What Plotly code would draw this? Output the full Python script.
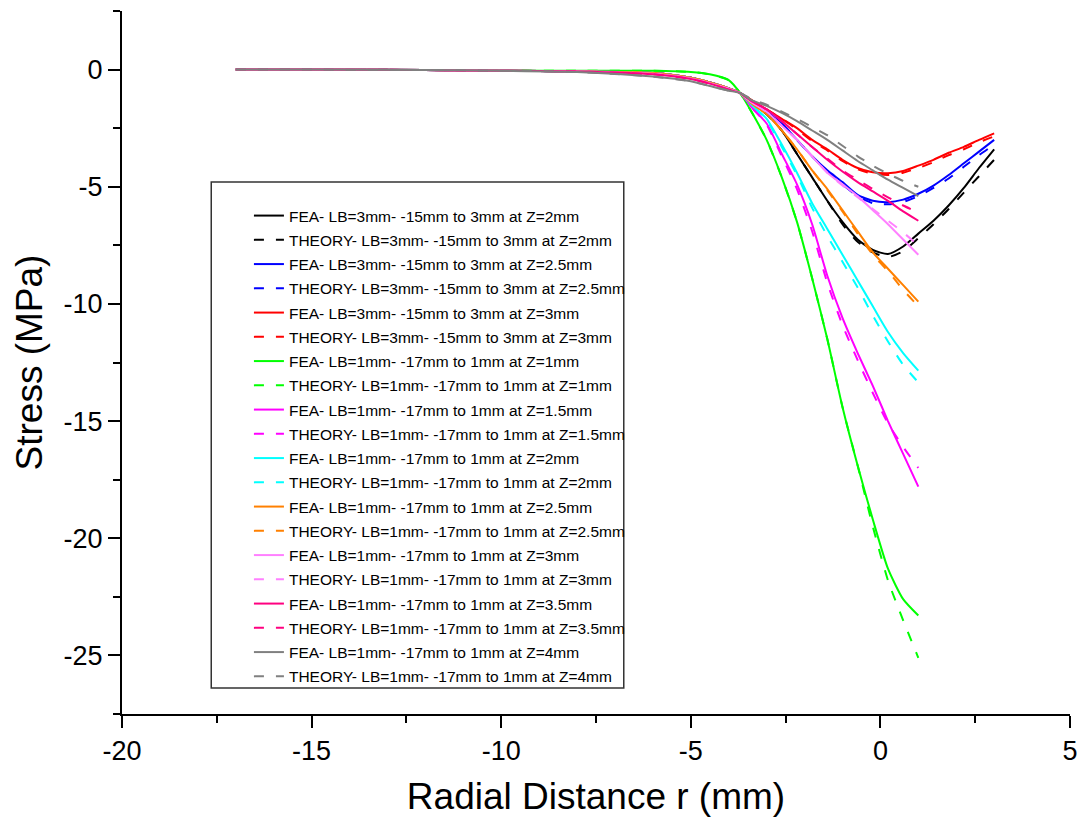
import plotly.graph_objects as go

# ---------------- data ----------------
x_lb3 = [-15, -12, -10, -8, -6, -5, -4.5, -4, -3.7, -3.4, -3, -2.6, -2.2, -1.8, -1.4,
         -1, -0.6, -0.2, 0.2, 0.6, 1.0, 1.4, 1.8, 2.2, 2.6, 3.0]
x_lb1 = [-17, -15, -12, -10, -8, -6, -5, -4.5, -4, -3.7, -3.4, -3, -2.6, -2.2, -1.8,
         -1.4, -1, -0.6, -0.2, 0.2, 0.6, 1.0]

fea_lb3_z2 = [0, -0.02, -0.05, -0.08, -0.15, -0.35, -0.55, -0.8, -1.0, -1.4, -1.9, -2.6, -3.6,
              -4.6, -5.6, -6.5, -7.25, -7.7, -7.87, -7.55, -7.0, -6.45, -5.8, -5.05, -4.2, -3.4]
th_lb3_z2 = [0, -0.02, -0.05, -0.08, -0.15, -0.35, -0.55, -0.8, -1.0, -1.4, -1.9, -2.6, -3.6,
             -4.6, -5.6, -6.6, -7.35, -7.8, -8.0, -7.75, -7.2, -6.6, -5.95, -5.25, -4.55, -3.85]
fea_lb3_z25 = [0, -0.02, -0.05, -0.08, -0.15, -0.35, -0.55, -0.8, -1.0, -1.35, -1.8, -2.3, -3.0,
               -3.7, -4.3, -4.8, -5.35, -5.6, -5.66, -5.55, -5.3, -4.95, -4.5, -4.0, -3.5, -3.0]
th_lb3_z25 = [0, -0.02, -0.05, -0.08, -0.15, -0.35, -0.55, -0.8, -1.0, -1.35, -1.8, -2.3, -3.0,
              -3.7, -4.35, -4.9, -5.4, -5.7, -5.75, -5.65, -5.4, -5.05, -4.65, -4.15, -3.65, -3.2]
fea_lb3_z3 = [0, -0.02, -0.05, -0.08, -0.15, -0.35, -0.55, -0.8, -1.0, -1.3, -1.7, -2.1, -2.5,
              -3.0, -3.4, -3.85, -4.2, -4.38, -4.42, -4.33, -4.1, -3.85, -3.55, -3.3, -3.0, -2.72]
th_lb3_z3 = [0, -0.02, -0.05, -0.08, -0.15, -0.35, -0.55, -0.8, -1.0, -1.3, -1.7, -2.1, -2.55,
             -3.05, -3.45, -3.9, -4.25, -4.45, -4.5, -4.4, -4.2, -3.95, -3.65, -3.4, -3.1, -2.85]

fea_lb1_z1 = [0, 0, -0.02, -0.04, -0.05, -0.05, -0.1, -0.2, -0.45, -1.0, -1.8, -3.0, -4.6,
              -6.5, -8.9, -11.5, -14.4, -16.9, -19.2, -21.3, -22.6, -23.3]
th_lb1_z1 = [0, 0, -0.02, -0.04, -0.05, -0.05, -0.1, -0.2, -0.45, -1.0, -1.8, -3.0, -4.6,
             -6.5, -8.9, -11.5, -14.4, -16.9, -19.5, -21.8, -23.5, -25.1]
fea_lb1_z15 = [0, 0, -0.02, -0.05, -0.08, -0.15, -0.35, -0.55, -0.8, -1.0, -1.6, -2.3, -3.6,
               -4.9, -6.6, -8.8, -10.6, -12.1, -13.5, -15.0, -16.4, -17.8]
th_lb1_z15 = [0, 0, -0.02, -0.05, -0.08, -0.15, -0.35, -0.55, -0.8, -1.0, -1.6, -2.35, -3.7,
              -5.1, -6.9, -9.1, -10.9, -12.4, -13.8, -15.1, -16.1, -17.0]
fea_lb1_z2 = [0, 0, -0.02, -0.05, -0.08, -0.15, -0.35, -0.55, -0.8, -1.0, -1.5, -2.1, -3.2,
              -4.4, -5.7, -6.8, -7.9, -9.0, -10.1, -11.2, -12.1, -12.85]
th_lb1_z2 = [0, 0, -0.02, -0.05, -0.08, -0.15, -0.35, -0.55, -0.8, -1.0, -1.5, -2.15, -3.3,
             -4.5, -5.9, -7.1, -8.2, -9.3, -10.5, -11.6, -12.6, -13.35]
fea_lb1_z25 = [0, 0, -0.02, -0.05, -0.08, -0.15, -0.35, -0.55, -0.8, -1.0, -1.45, -1.9, -2.6,
               -3.4, -4.3, -5.1, -6.0, -6.9, -7.8, -8.5, -9.2, -9.9]
th_lb1_z25 = [0, 0, -0.02, -0.05, -0.08, -0.15, -0.35, -0.55, -0.8, -1.0, -1.45, -1.9, -2.6,
              -3.4, -4.3, -5.15, -6.05, -7.0, -7.9, -8.6, -9.4, -10.1]
fea_lb1_z3 = [0, 0, -0.02, -0.05, -0.08, -0.18, -0.38, -0.58, -0.82, -1.0, -1.4, -1.8, -2.4,
              -3.0, -3.7, -4.4, -4.9, -5.4, -6.0, -6.6, -7.25, -7.9]
th_lb1_z3 = [0, 0, -0.02, -0.05, -0.08, -0.18, -0.38, -0.58, -0.82, -1.0, -1.4, -1.8, -2.4,
             -3.0, -3.7, -4.4, -4.95, -5.45, -5.95, -6.45, -6.95, -7.5]
fea_lb1_z35 = [0, 0, -0.02, -0.05, -0.08, -0.2, -0.4, -0.6, -0.85, -1.0, -1.35, -1.7, -2.2,
               -2.75, -3.3, -3.85, -4.35, -4.8, -5.2, -5.6, -6.05, -6.45]
th_lb1_z35 = [0, 0, -0.02, -0.05, -0.08, -0.2, -0.4, -0.6, -0.85, -1.0, -1.35, -1.7, -2.2,
              -2.75, -3.3, -3.8, -4.3, -4.7, -5.1, -5.45, -5.8, -6.1]
fea_lb1_z4 = [0, 0, -0.02, -0.05, -0.1, -0.3, -0.5, -0.7, -0.9, -1.0, -1.3, -1.55, -1.85,
              -2.2, -2.6, -3.0, -3.45, -3.9, -4.3, -4.7, -5.05, -5.4]
th_lb1_z4 = [0, 0, -0.02, -0.05, -0.1, -0.3, -0.5, -0.7, -0.9, -1.0, -1.25, -1.5, -1.8,
             -2.1, -2.45, -2.8, -3.25, -3.7, -4.1, -4.45, -4.75, -5.0]

# tick labels
x_tick_vals = [-20, -15, -10, -5, 0, 5]
x_tick_text = ["-20", "-15", "-10", "-5", "0", "5"]
y_tick_vals = [0, -5, -10, -15, -20, -25]
y_tick_text = ["0", "-5", "-10", "-15", "-20", "-25"]
x_minor_vals = [-17.5, -12.5, -7.5, -2.5, 2.5]
y_minor_vals = [2.5, -2.5, -7.5, -12.5, -17.5, -22.5, -27.5]

series = [
    ("FEA- LB=3mm- -15mm to 3mm at Z=2mm", x_lb3, fea_lb3_z2, "#000000", "solid"),
    ("THEORY- LB=3mm- -15mm to 3mm at Z=2mm", x_lb3, th_lb3_z2, "#000000", "dash"),
    ("FEA- LB=3mm- -15mm to 3mm at Z=2.5mm", x_lb3, fea_lb3_z25, "#0000FF", "solid"),
    ("THEORY- LB=3mm- -15mm to 3mm at Z=2.5mm", x_lb3, th_lb3_z25, "#0000FF", "dash"),
    ("FEA- LB=3mm- -15mm to 3mm at Z=3mm", x_lb3, fea_lb3_z3, "#FF0000", "solid"),
    ("THEORY- LB=3mm- -15mm to 3mm at Z=3mm", x_lb3, th_lb3_z3, "#FF0000", "dash"),
    ("FEA- LB=1mm- -17mm to 1mm at Z=1mm", x_lb1, fea_lb1_z1, "#00FF00", "solid"),
    ("THEORY- LB=1mm- -17mm to 1mm at Z=1mm", x_lb1, th_lb1_z1, "#00FF00", "dash"),
    ("FEA- LB=1mm- -17mm to 1mm at Z=1.5mm", x_lb1, fea_lb1_z15, "#FF00FF", "solid"),
    ("THEORY- LB=1mm- -17mm to 1mm at Z=1.5mm", x_lb1, th_lb1_z15, "#FF00FF", "dash"),
    ("FEA- LB=1mm- -17mm to 1mm at Z=2mm", x_lb1, fea_lb1_z2, "#00FFFF", "solid"),
    ("THEORY- LB=1mm- -17mm to 1mm at Z=2mm", x_lb1, th_lb1_z2, "#00FFFF", "dash"),
    ("FEA- LB=1mm- -17mm to 1mm at Z=2.5mm", x_lb1, fea_lb1_z25, "#FF8000", "solid"),
    ("THEORY- LB=1mm- -17mm to 1mm at Z=2.5mm", x_lb1, th_lb1_z25, "#FF8000", "dash"),
    ("FEA- LB=1mm- -17mm to 1mm at Z=3mm", x_lb1, fea_lb1_z3, "#FF80FF", "solid"),
    ("THEORY- LB=1mm- -17mm to 1mm at Z=3mm", x_lb1, th_lb1_z3, "#FF80FF", "dash"),
    ("FEA- LB=1mm- -17mm to 1mm at Z=3.5mm", x_lb1, fea_lb1_z35, "#FF0080", "solid"),
    ("THEORY- LB=1mm- -17mm to 1mm at Z=3.5mm", x_lb1, th_lb1_z35, "#FF0080", "dash"),
    ("FEA- LB=1mm- -17mm to 1mm at Z=4mm", x_lb1, fea_lb1_z4, "#808080", "solid"),
    ("THEORY- LB=1mm- -17mm to 1mm at Z=4mm", x_lb1, th_lb1_z4, "#808080", "dash"),
]

FONT = "Liberation Sans, Arial, sans-serif"

fig = go.Figure()
for i, (name, xs, ys, col, dash) in enumerate(series):
    fig.add_trace(go.Scatter(
        x=xs, y=ys, name=name, mode="lines", legendgroup=f"g{i}",
        line=dict(color=col, width=2, shape="spline", smoothing=0.6,
                  dash="10px,12px" if dash == "dash" else "solid"),
    ))

L, R, T, B = 122, 10, 11, 116
W, H = 1088, 830
pw, ph = W - L - R, H - T - B

def px_x(p):
    return (p - L) / pw

def px_y(p):
    return (H - B - p) / ph

# legend frame
fig.add_shape(type="rect", xref="paper", yref="paper",
              x0=px_x(212), x1=px_x(628), y0=px_y(688), y1=px_y(182),
              line=dict(color="#333333", width=1.5), fillcolor="white", layer="below")

axis_common = dict(
    showline=True, linecolor="black", linewidth=2, mirror=False,
    showgrid=False, zeroline=False,
    ticks="outside", ticklen=12, tickwidth=2, tickcolor="black",
    tickfont=dict(family=FONT, size=27, color="black"),
    tickmode="array", ticklabeloverflow="allow",
)

fig.update_layout(
    width=W, height=H,
    margin=dict(l=L, r=R, t=T, b=B),
    paper_bgcolor="white", plot_bgcolor="white",
    font=dict(family=FONT, color="black"),
    xaxis=dict(range=[-20, 5], tickvals=x_tick_vals, ticktext=x_tick_text,
               minor=dict(tickmode="array", tickvals=x_minor_vals, ticks="outside",
                          ticklen=7, tickwidth=2, tickcolor="black"),
               title=dict(text="Radial Distance r (mm)", font=dict(family=FONT, size=37), standoff=18),
               **axis_common),
    yaxis=dict(range=[-27.5, 2.5], tickvals=y_tick_vals, ticktext=y_tick_text,
               minor=dict(tickmode="array", tickvals=y_minor_vals, ticks="outside",
                          ticklen=7, tickwidth=2, tickcolor="black"),
               title=dict(text="Stress (MPa)", font=dict(family=FONT, size=37), standoff=10),
               **axis_common),
    legend=dict(x=px_x(250), y=px_y(199), xanchor="left", yanchor="top",
                bgcolor="rgba(0,0,0,0)", borderwidth=0,
                font=dict(family=FONT, size=15.5, color="black"),
                tracegroupgap=1.1, traceorder="grouped"),
    showlegend=True,
)

fig.write_html("out.html")
